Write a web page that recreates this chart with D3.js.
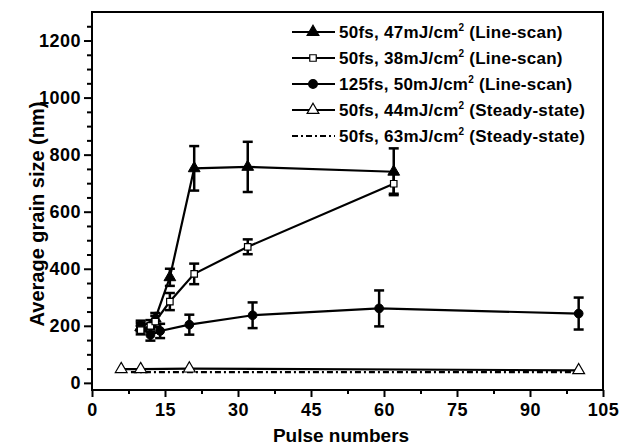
<!DOCTYPE html>
<html lang="en">
<head>
<meta charset="UTF-8">
<title>Average grain size vs pulse numbers</title>
<script src="https://cdn.jsdelivr.net/npm/d3@7.8.5/dist/d3.min.js"></script>
<style>
  body { margin: 0; background: #fff; }
  svg { display: block; font-family: "Liberation Sans", Arial, sans-serif; font-weight: bold; }
</style>
</head>
<body>
<svg id="chart" width="621" height="445"></svg>
<script>
// 50fs, 47mJ/cm2 (Line-scan) - filled triangles
const triX = [10, 13, 16, 21, 32, 62];
const triY = [195, 225, 370, 752, 757, 740];
const triErr = [15, 20, 30, 78, 88, 82];

// 50fs, 38mJ/cm2 (Line-scan) - open squares
const sqX = [10, 12, 13, 16, 21, 32, 62];
const sqY = [185, 200, 215, 285, 382, 477, 698];
const sqErr = [15, 20, 20, 30, 36, 26, 35];

// 125fs, 50mJ/cm2 (Line-scan) - filled circles
const cirX = [10, 12, 14, 20, 33, 59, 100];
const cirY = [200, 168, 182, 204, 237, 261, 243];
const cirErr = [18, 20, 25, 35, 45, 63, 56];

// 50fs, 44mJ/cm2 (Steady-state) - open triangles
const ssX = [6, 10, 20, 100];
const ssY = [48, 48, 50, 44];

// 50fs, 63mJ/cm2 (Steady-state) - dash dot line
const ddX = [8, 12, 20, 33, 62, 100];
const ddY = [38, 38, 38, 38, 38, 38];

const xTicks = [0, 15, 30, 45, 60, 75, 90, 105];
const yTicks = [0, 200, 400, 600, 800, 1000, 1200];

const legendLabels = [
  ["50fs, 47mJ/cm", " (Line-scan)"],
  ["50fs, 38mJ/cm", " (Line-scan)"],
  ["125fs, 50mJ/cm", " (Line-scan)"],
  ["50fs, 44mJ/cm", " (Steady-state)"],
  ["50fs, 63mJ/cm", " (Steady-state)"]
];

const svg = d3.select("#chart");
const mLeft = 92, mRight = 603, mTop = 12, mBottom = 390;

const x = d3.scaleLinear().domain([0, 105]).range([mLeft, mRight]);
const y = d3.scaleLinear().domain([-25, 1300]).range([mBottom, mTop]);

// axes
const xAxis = d3.axisBottom(x).tickValues(xTicks).tickSize(7).tickPadding(6).tickFormat(d3.format("d"));
const xMinor = d3.axisBottom(x).tickValues(d3.range(7.5, 105, 15)).tickSize(4).tickFormat("");
const yAxis = d3.axisLeft(y).tickValues(yTicks).tickSize(8).tickPadding(3).tickFormat(d3.format("d"));
const yMinor = d3.axisLeft(y).tickValues(d3.range(50, 1300, 50).filter(v => v % 200 !== 0)).tickSize(5).tickFormat("");

function styleAxis(g) {
  g.select(".domain").remove();
  g.selectAll("line").attr("stroke", "#000").attr("stroke-width", 2);
  g.selectAll("text").attr("fill", "#000")
    .style("font-size", "18px").style("font-weight", "bold").style("letter-spacing", "0.5px");
}

svg.append("g").attr("transform", `translate(0,${mBottom})`).call(xAxis).call(styleAxis);
svg.append("g").attr("transform", `translate(0,${mBottom})`).call(xMinor).call(styleAxis);
svg.append("g").attr("transform", `translate(${mLeft},0)`).call(yAxis).call(styleAxis);
svg.append("g").attr("transform", `translate(${mLeft},0)`).call(yMinor).call(styleAxis);

// frame
svg.append("rect")
  .attr("x", mLeft).attr("y", mTop)
  .attr("width", mRight - mLeft).attr("height", mBottom - mTop)
  .attr("fill", "none").attr("stroke", "#000").attr("stroke-width", 2);

// axis titles
svg.append("text")
  .attr("x", 341).attr("y", 442)
  .attr("text-anchor", "middle").style("font-size", "19px")
  .text("Pulse numbers");
svg.append("text")
  .attr("transform", `translate(44,214) rotate(-90)`)
  .attr("text-anchor", "middle").style("font-size", "20px")
  .text("Average grain size (nm)");

const line = d3.line().x(d => x(d[0])).y(d => y(d[1]));
const plot = svg.append("g");

function drawLine(xs, ys, dash) {
  plot.append("path")
    .datum(xs.map((v, i) => [v, ys[i]]))
    .attr("d", line)
    .attr("fill", "none").attr("stroke", "#000").attr("stroke-width", 2.2)
    .attr("stroke-dasharray", dash || null);
}

function drawErr(xs, ys, es) {
  xs.forEach((v, i) => {
    const cx = x(v), y0 = y(ys[i] - es[i]), y1 = y(ys[i] + es[i]);
    const g = plot.append("g").attr("stroke", "#000").attr("stroke-width", 2.5);
    g.append("line").attr("x1", cx).attr("x2", cx).attr("y1", y0).attr("y2", y1);
    g.append("line").attr("x1", cx - 5).attr("x2", cx + 5).attr("y1", y0).attr("y2", y0);
    g.append("line").attr("x1", cx - 5).attr("x2", cx + 5).attr("y1", y1).attr("y2", y1);
  });
}

const symTri = d3.symbol().type(d3.symbolTriangle).size(60);
const symSq = d3.symbol().type(d3.symbolSquare).size(42);
const symCir = d3.symbol().type(d3.symbolCircle).size(60);

function drawMarks(xs, ys, sym, fill, sw) {
  xs.forEach((v, i) => {
    plot.append("path")
      .attr("d", sym())
      .attr("transform", `translate(${x(v)},${y(ys[i])})`)
      .attr("fill", fill).attr("stroke", "#000").attr("stroke-width", sw);
  });
}

// steady-state series
drawLine(ssX, ssY);
drawLine(ddX, ddY, "6,3,2,3");
drawMarks(ssX, ssY, symTri, "#fff", 1.2);

// line-scan series
drawLine(cirX, cirY);
drawErr(cirX, cirY, cirErr);
drawMarks(cirX, cirY, symCir, "#000", 1);

drawLine(sqX, sqY);
drawErr(sqX, sqY, sqErr);
drawLine(triX, triY);
drawErr(triX, triY, triErr);
drawMarks(triX, triY, symTri, "#000", 1);
drawMarks(sqX, sqY, symSq, "#fff", 1.2);

// legend
const leg = svg.append("g");
const legSyms = [
  [symTri, "#000", null],
  [symSq, "#fff", null],
  [symCir, "#000", null],
  [symTri, "#fff", null],
  [null, null, "6,3,2,3"]
];
legendLabels.forEach((lab, i) => {
  const ly = 32 + i * 26;
  leg.append("line")
    .attr("x1", 292).attr("x2", 335).attr("y1", ly).attr("y2", ly)
    .attr("stroke", "#000").attr("stroke-width", 2.2)
    .attr("stroke-dasharray", legSyms[i][2]);
  if (legSyms[i][0]) {
    leg.append("path").attr("d", legSyms[i][0]())
      .attr("transform", `translate(313,${ly})`)
      .attr("fill", legSyms[i][1]).attr("stroke", "#000").attr("stroke-width", 1.2);
  }
  const t = leg.append("text").attr("x", 339).attr("y", ly + 6)
    .style("font-size", "17px").style("letter-spacing", "0.25px");
  t.append("tspan").text(lab[0]);
  t.append("tspan").attr("dy", -7).style("font-size", "10px").text("2");
  t.append("tspan").attr("dy", 7).text(lab[1]);
});
</script>
</body>
</html>
